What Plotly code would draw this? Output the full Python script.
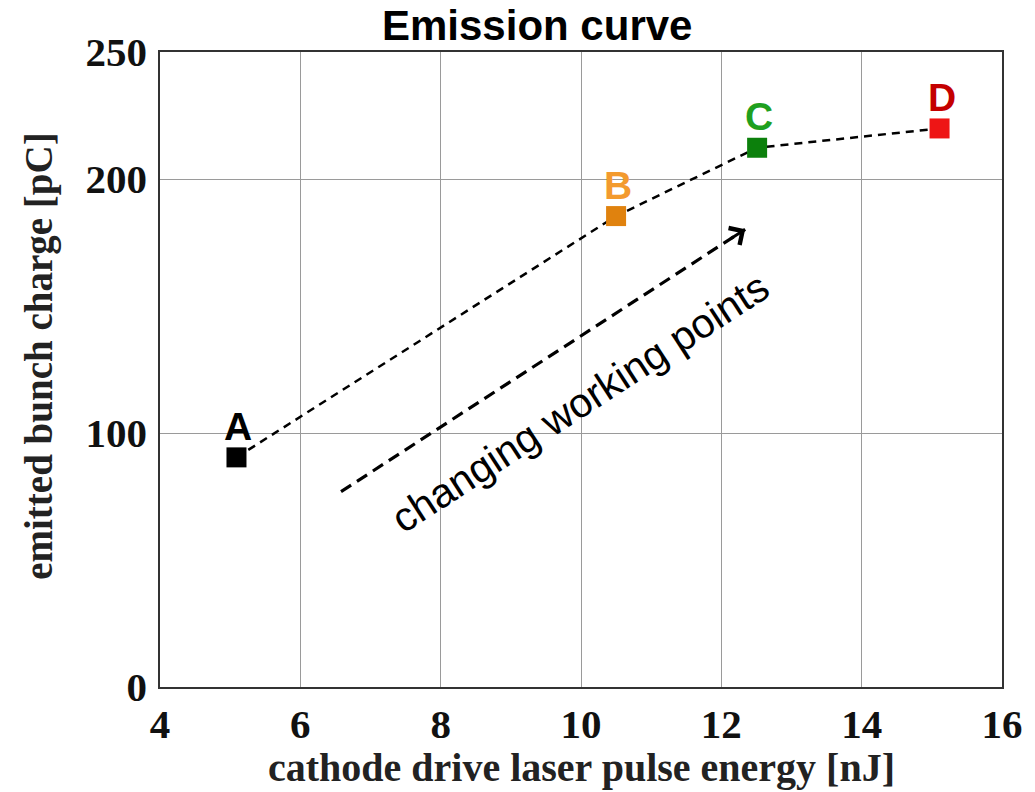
import plotly.graph_objects as go

# ---- data ----
point_labels = ["A", "B", "C", "D"]
energy_nJ = [5.09, 10.5, 12.51, 15.11]
charge_pC = [90.4, 185.4, 212.3, 219.9]
marker_colors = ["#000000", "#E0820E", "#0C800C", "#EE1515"]
label_colors = ["#000000", "#F39A2E", "#1FA01F", "#C40000"]

arrow_x = [6.58, 12.34]
arrow_y = [76.9, 180.2]
arrow_text = "changing working points"

x_ticks = [4, 6, 8, 10, 12, 14, 16]
y_ticks = [0, 100, 200, 250]

fig = go.Figure()

# dashed connecting line
fig.add_trace(go.Scatter(
    x=energy_nJ, y=charge_pC, mode="lines",
    line=dict(color="black", width=2.5, dash="8px,6px"),
    hoverinfo="skip", showlegend=False))

# markers
fig.add_trace(go.Scatter(
    x=energy_nJ, y=charge_pC, mode="markers",
    marker=dict(symbol="square", size=20, color=marker_colors,
                line=dict(width=0)),
    showlegend=False))

# dashed arrow body
fig.add_trace(go.Scatter(
    x=arrow_x, y=arrow_y, mode="lines",
    line=dict(color="black", width=3.2, dash="12px,7px"),
    hoverinfo="skip", showlegend=False))

annotations = []
for lab, xv, yv, c in zip(point_labels, energy_nJ, charge_pC, label_colors):
    annotations.append(dict(
        x=xv, y=yv, xref="x", yref="y", text=f"<b>{lab}</b>",
        showarrow=False, yshift=31, xshift=2,
        font=dict(family="Liberation Sans, Arial", size=39, color=c)))

# arrowhead
dxa = arrow_x[1] - arrow_x[0]
dya = arrow_y[1] - arrow_y[0]
annotations.append(dict(
    x=arrow_x[1], y=arrow_y[1], xref="x", yref="y",
    ax=arrow_x[1] - 0.04 * dxa, ay=arrow_y[1] - 0.04 * dya,
    axref="x", ayref="y", text="", showarrow=True,
    arrowhead=4, arrowsize=1.3, arrowwidth=3, arrowcolor="black", standoff=0))

# rotated text
annotations.append(dict(
    x=9.98, y=112, xref="x", yref="y", text=arrow_text, showarrow=False,
    textangle=-33,
    font=dict(family="Liberation Sans, Arial", size=41, color="black")))

# axis titles
annotations.append(dict(
    x=0.5, y=-0.1655, xref="paper", yref="paper", yanchor="bottom",
    text="<b>cathode drive laser pulse energy [nJ]</b>", showarrow=False,
    font=dict(family="Liberation Serif, Times New Roman", size=40, color="#222")))
annotations.append(dict(
    x=-0.143, y=0.521, xref="paper", yref="paper", xanchor="center",
    text="<b>emitted bunch charge [pC]</b>", showarrow=False, textangle=-90,
    font=dict(family="Liberation Serif, Times New Roman", size=39, color="#222")))

fig.update_layout(
    width=1035, height=792,
    margin=dict(l=160, r=29, t=52, b=105),
    paper_bgcolor="white", plot_bgcolor="white",
    title=dict(text="<b>Emission curve</b>", x=0.448, xref="paper",
               xanchor="center", y=0.968, yanchor="middle",
               font=dict(family="Liberation Sans, Arial", size=42, color="black")),
    annotations=annotations,
    showlegend=False,
)

tickfont = dict(family="Liberation Serif, Times New Roman", size=41, color="#111")
fig.update_xaxes(range=[4, 16], tickvals=x_ticks, ticktext=[f"<b>{v}</b>" for v in x_ticks],
                 showgrid=True, gridcolor="#9a9a9a", gridwidth=1,
                 showline=True, linecolor="#333", linewidth=1.5, mirror=True,
                 ticks="", zeroline=False, tickfont=tickfont, ticklabelstandoff=0)
fig.update_yaxes(range=[0, 250], tickvals=y_ticks, ticktext=[f"<b>{v}</b>" for v in y_ticks],
                 showgrid=True, gridcolor="#9a9a9a", gridwidth=1,
                 showline=True, linecolor="#333", linewidth=1.5, mirror=True,
                 ticks="", zeroline=False, tickfont=tickfont, ticklabelstandoff=3)

fig.write_html("out.html")
